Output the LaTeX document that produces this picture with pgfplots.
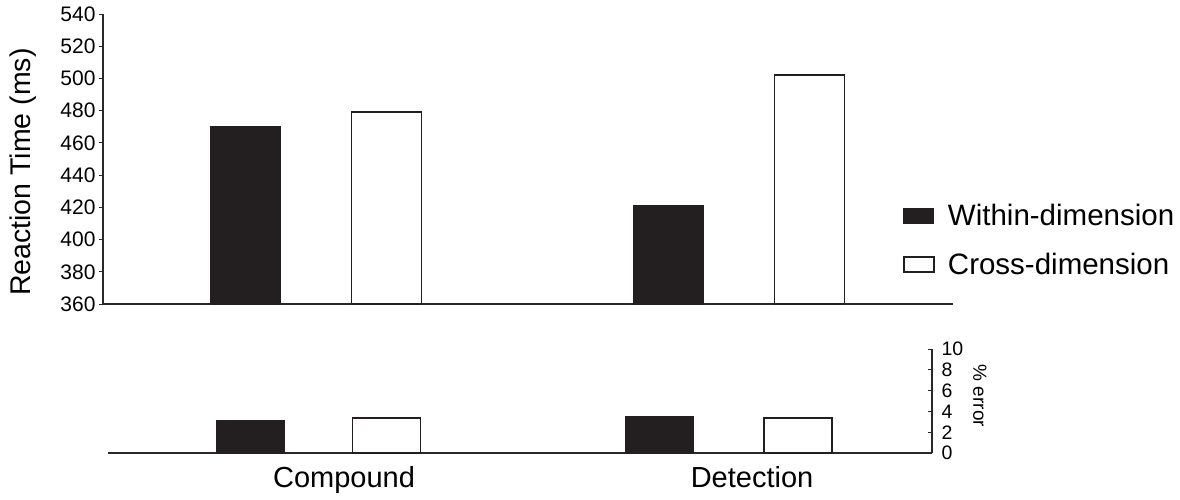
\documentclass[border=0pt]{standalone}
\usepackage{fontspec}
\setmainfont{Liberation Sans}
\usepackage{pgfplots}
\pgfplotsset{compat=1.18}
\definecolor{barblk}{RGB}{35,31,32}
\definecolor{axgray}{RGB}{40,40,40}
\begin{document}
\begin{tikzpicture}[x=1pt,y=1pt]
\useasboundingbox (0,0) rectangle (1180,499);
% ---------- top: reaction time ----------
\begin{axis}[
  at={(103pt,195pt)}, anchor=south west,
  scale only axis, width=850pt, height=290pt,
  xmin=103, xmax=953, ymin=360, ymax=540,
  axis x line*=bottom, axis y line*=left,
  axis line style={-, line width=1.3pt, color=axgray},
  xtick=\empty,
  ytick={360,380,...,540},
  tick align=outside, major tick length=4pt,
  tick style={line width=1pt, color=axgray},
  /pgf/number format/assume math mode=true,
  tick label style={font=\fontsize{21}{24}\selectfont},
  ylabel={Reaction Time (ms)},
  ylabel style={font=\fontsize{28.5}{32}\selectfont, at={(axis description cs:-0.094,0.455)}, anchor=center},
  ybar, bar width=70, bar shift=0pt,
  legend style={at={(rel axis cs:0.941,0.22)}, anchor=west, draw=none, fill=none,
    font=\fontsize{29.5}{34}\selectfont, row sep=22pt, inner sep=0pt,
    cells={anchor=west}},
  legend image code/.code={\draw[#1] (0pt,-7.5pt) rectangle (30pt,7.5pt); \path[draw=none,fill=none] (0pt,0pt) -- (42pt,0pt);},
  clip=false,
]
\addplot[fill=barblk, draw=barblk, line width=1pt] coordinates {(245,470) (668.5,421)};
\addlegendentry{Within-dimension}
\addplot[fill=white, draw=barblk, line width=1.8pt] coordinates {(386.5,479) (809.5,502)};
\addlegendentry{Cross-dimension}
\end{axis}
% ---------- bottom: % error ----------
\begin{axis}[
  at={(108pt,46pt)}, anchor=south west,
  scale only axis, width=824pt, height=104pt,
  xmin=108, xmax=932, ymin=0, ymax=10,
  axis x line*=bottom, axis y line*=right,
  axis line style={-, line width=1.3pt, color=axgray},
  xtick={344,752}, xticklabels={Compound,Detection},
  x tick style={draw=none},
  x tick label style={font=\fontsize{29}{34}\selectfont, yshift=-6pt},
  ytick={0,2,...,10},
  y tick style={line width=1pt, color=axgray},
  tick align=inside, major tick length=4pt,
  /pgf/number format/assume math mode=true,
  y tick label style={font=\fontsize{19.5}{22}\selectfont, xshift=6pt},
  ylabel={\% error},
  ylabel style={font=\fontsize{19}{22}\selectfont, rotate=180, at={(axis description cs:1.058,0.55)}, anchor=center},
  ybar, bar width=68, bar shift=0pt,
  clip=false,
]
\addplot[fill=barblk, draw=barblk, line width=1pt] coordinates {(250,3.1) (659,3.5)};
\addplot[fill=white, draw=barblk, line width=1.8pt] coordinates {(386.5,3.4) (798,3.4)};
\end{axis}
\end{tikzpicture}
\end{document}
